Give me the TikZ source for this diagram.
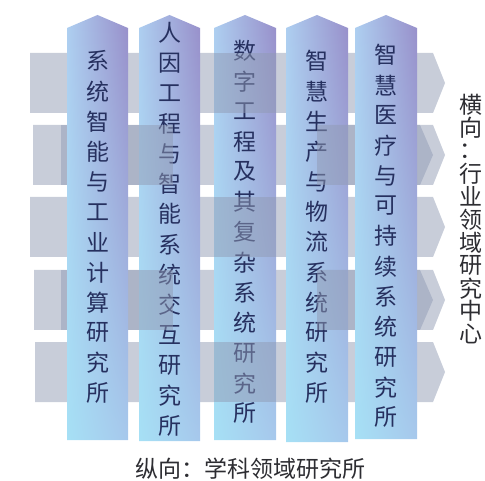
\documentclass[tikz,border=0pt]{standalone}
\usepackage{fontspec}
\setmainfont{Noto Sans CJK SC}
\usetikzlibrary{shadings}
\definecolor{bandc}{RGB}{145,155,180}
\definecolor{txt}{RGB}{38,48,95}
\definecolor{dtxt}{RGB}{45,45,50}
\definecolor{cUL}{RGB}{174,206,240}
\definecolor{cUR}{RGB}{152,143,202}
\definecolor{cLL}{RGB}{166,224,245}
\definecolor{cLR}{RGB}{166,200,236}
\tikzset{
  band/.style={fill=bandc, fill opacity=0.5},
  colshade/.style={upper left=cUL, upper right=cUR, lower left=cLL, lower right=cLR},
  ch/.style={font=\fontsize{23}{23}\selectfont, text=txt, inner sep=0pt},
  rch/.style={font=\fontsize{23}{23}\selectfont, text=dtxt, inner sep=0pt},
}
\newcommand\colshape[3]{%
  \shade[colshade] (#1,28) -- ({(#1+#2)/2},15) -- (#2,28) -- (#2,#3) -- (#1,#3) -- cycle;}
\newcommand\coltext[4]{%
  \foreach \c [count=\i] in {#4} \node[ch] (#1-\i) at (#2,{#3+(\i-1)*30.2}) {\c};}
\newcommand\bandshape[5]{%
  \fill[band] (#1,#4) -- (#2,#4) -- (#3,{(#4+#5)/2}) -- (#2,#5) -- (#1,#5) -- cycle;}
\begin{document}
\begin{tikzpicture}[x=1pt,y=-1pt]
\useasboundingbox (0,0) rectangle (485,481);
% horizontal bands
\bandshape{30}{433}{445}{53}{113}
\bandshape{33}{433}{445}{125}{185}
\bandshape{30}{433}{445}{197}{257}
\bandshape{34}{433}{445}{270}{330}
\bandshape{35}{433}{445}{342}{402}
% columns 2,3,4
\colshape{139}{200}{441}
\coltext{cb}{169.5}{33}{人,因,工,程,与,智,能,系,统,交,互,研,究,所}
\colshape{214}{276}{440}
\coltext{cc}{245}{51}{数,字,工,程,及,其,复,杂,系,统,研,究,所}
\colshape{286}{348}{442}
\coltext{cd}{317}{61}{智,慧,生,产,与,物,流,系,统,研,究,所}
% woven overlays
\fill[band] (61,125) rectangle (173,185);
\fill[band] (61,270) rectangle (173,330);
\fill[band] (214,53) rectangle (276,113);
\fill[band] (214,197) rectangle (276,257);
\fill[band] (214,342) rectangle (276,402);
\bandshape{317}{420}{433}{125}{185}
\bandshape{317}{420}{433}{270}{330}
% columns 1,5
\colshape{67}{128}{440}
\coltext{ca}{97.5}{61}{系,统,智,能,与,工,业,计,算,研,究,所}
\colshape{355}{417}{439}
\coltext{ce}{386}{55}{智,慧,医,疗,与,可,持,续,系,统,研,究,所}
% right label
\foreach \c [count=\i] in {横,向,：,行,业,领,域,研,究,中,心}
  \node[rch] (r-\i) at (471,{105+(\i-1)*22.9}) {\c};
% bottom label
\node[rch] (bottom) at (250,469) {纵向：学科领域研究所};
\end{tikzpicture}
\end{document}
